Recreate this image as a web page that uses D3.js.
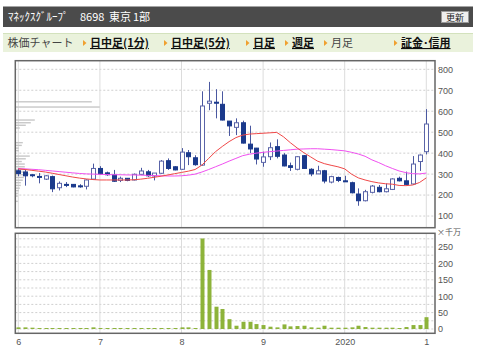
<!DOCTYPE html>
<html>
<head>
<meta charset="utf-8">
<script src="https://cdn.jsdelivr.net/npm/d3@7"></script>
<style>
  body { margin: 0; background: #fff; }
  svg { display: block; font-family: "Liberation Sans", Arial, sans-serif; }
</style>
</head>
<body>
<div id="chart"></div>
<script>
// monthly candles, Jan 2016 .. Jan 2021
const months = d3.timeMonth.range(new Date(2016, 0, 1), new Date(2021, 1, 1)).map(d3.timeFormat("%Y-%m"));
const openP  = [316,310,297,289,276,288,235,251,251,244,242,276,327,306,296,270,280,272,299,311,291,304,364,335,323,402,378,343,638,643,633,553,523,545,443,424,356,383,431,391,340,323,388,323,301,316,262,284,268,259,205,173,213,237,216,227,280,268,253,360,407];
const highP  = [327,320,300,305,296,293,265,262,252,252,275,350,338,312,320,288,281,303,330,320,305,367,375,338,424,415,390,695,740,705,695,553,566,555,531,425,407,451,466,400,355,386,391,328,340,320,292,288,292,264,232,225,248,248,255,280,288,312,386,394,610];
const lowP   = [290,245,285,256,272,214,222,238,237,235,227,274,297,292,263,262,266,270,297,287,270,301,320,318,320,343,340,340,605,566,556,482,486,446,400,346,335,367,375,337,315,318,325,290,300,256,256,262,264,208,149,170,208,213,213,224,265,248,248,315,394];
const closeP = [303,292,295,287,292,230,256,249,239,243,272,327,301,297,266,280,270,299,315,292,305,362,327,320,405,383,345,625,648,640,558,530,545,448,420,372,382,426,385,339,332,383,327,301,316,267,288,270,266,211,173,216,243,216,230,277,268,251,348,391,539];
// volume, x 10 million shares
const volume = [5,5,4,3,3,3,3,3,3,3,3,5,3,3,3,3,3,3,3,3,3,3,3,3,5,5,3,276,180,68,61,30,10,22,22,15,12,7,5,14,8,9,10,5,4,10,4,4,4,5,10,6,4,4,4,4,3,6,12,12,36];
// moving averages
const maShort = [325,322,318,314,310,304,298,292,286,281,277,274,272,272,272,272,272,273,276,280,285,290,296,302,308,314,322,343,375,407,432,455,474,486,491,493,495,497,499,478,450,425,402,382,362,350,342,335,325,300,282,272,264,258,254,252,246,245,248,260,282];
const maLong  = [326,325,323,321,318,315,312,309,306,303,301,300,299,298,297,297,296,296,295,294,293,292,291,291,292,295,300,310,322,335,348,362,375,388,395,400,404,407,410,413,416,419,420,421,421,419,417,414,411,404,396,385,368,355,340,327,315,307,302,301,305];
// price-by-volume profile on the left
const profilePrice = [645,620,558,545,533,520,450,437,424,412,386,373,360,348,335,322,310,297,284,271,259,246,233,221,208,195,170];
const profileVol   = [76,84,19,15,10,4,7,6,3,3,14,10,6,9,9,10,12,10,8,7,5,5,4,3,2,2,2];

const tickLabels = ["6","7","8","9","2020","1"];
const priceTicks = [100,200,300,400,500,600,700,800];
const volTicks = [0,50,100,150,200,250];
const volGrid = [0,25,50,75,100,125,150,175,200,225,250,275];

const W = 480, H = 360;
const panelL = 15.3, panelR = 435;
const priceTop = 60.7, priceBot = 227.7;
const volTop = 233.3, volBot = 333.3;

const svg = d3.select("#chart").append("svg")
    .attr("width", W).attr("height", H);

// ---- header bars
svg.append("rect").attr("x", 3).attr("y", 6.5).attr("width", 470).attr("height", 20.5).attr("fill", "#4b4b4b");
const title = svg.append("text").attr("y", 21)
    .attr("fill", "#fff").attr("font-size", 11)
    .attr("font-family", "'Noto Sans CJK JP', sans-serif");
[["ﾏﾈｯｸｽｸﾞﾙｰﾌﾟ", 8], ["8698", 80], ["東京", 109], ["1部", 133]].forEach(([t, px]) => {
  title.append("tspan").attr("x", px).text(t);
});
svg.append("rect").attr("x", 441.5).attr("y", 11.5).attr("width", 27).attr("height", 11)
    .attr("fill", "#eeeeee").attr("stroke", "#999");
svg.append("text").attr("x", 455).attr("y", 20.5).attr("text-anchor", "middle")
    .attr("font-size", 9).attr("fill", "#222")
    .attr("font-family", "'Noto Sans CJK JP', sans-serif")
    .text("更新");

svg.append("rect").attr("x", 3).attr("y", 33).attr("width", 470).attr("height", 19).attr("fill", "#eaf2dc");
svg.append("line").attr("x1", 3).attr("x2", 473).attr("y1", 33.5).attr("y2", 33.5).attr("stroke", "#d3e2bd");

const navItems = [
  {label: "株価チャート", x: 7.5, arrow: false, link: false},
  {label: "日中足(1分)", x: 90, arrow: true, link: true},
  {label: "日中足(5分)", x: 171, arrow: true, link: true},
  {label: "日足", x: 253, arrow: true, link: true},
  {label: "週足", x: 292, arrow: true, link: true},
  {label: "月足", x: 331, arrow: true, link: false},
  {label: "証金･信用", x: 401, arrow: true, link: true}
];
const nav = svg.append("g").attr("font-family", "'Noto Sans CJK JP', sans-serif").attr("font-size", 11);
nav.selectAll("text").data(navItems).join("text")
    .attr("x", d => d.x).attr("y", 47)
    .attr("fill", d => d.link ? "#111" : "#444")
    .attr("font-weight", d => d.link ? "bold" : "normal")
    .style("text-decoration", d => d.link ? "underline" : "none")
    .text(d => d.label);
nav.selectAll("path").data(navItems.filter(d => d.arrow)).join("path")
    .attr("d", d => `M${d.x - 7},${40} L${d.x - 3.5},${43} L${d.x - 7},${46} Z`)
    .attr("fill", "#f0a030");

// ---- scales
const x = d3.scalePoint().domain(months).range([18.3, 426.3]);
const y = d3.scaleLinear().domain([0, 800]).range([237, 69.3]);
const yv = d3.scaleLinear().domain([0, 250]).range([329, 247]);
const pw = d3.scaleLinear().domain([0, 84]).range([0, 84]);
const janKeys = months.filter(m => m.endsWith("-01"));

// ---- panel backgrounds
[[priceTop, priceBot], [volTop, volBot]].forEach(([t, b]) => {
  svg.append("rect").attr("x", panelL).attr("y", t).attr("width", panelR - panelL).attr("height", b - t).attr("fill", "#fff");
});

// horizontal dotted grid
svg.append("g").selectAll("line").data(priceTicks).join("line")
    .attr("x1", panelL).attr("x2", panelR)
    .attr("y1", d => y(d)).attr("y2", d => y(d))
    .attr("stroke", "#cfcfcf").attr("stroke-dasharray", "2,2");
svg.append("g").selectAll("line").data(volGrid).join("line")
    .attr("x1", panelL).attr("x2", panelR)
    .attr("y1", d => yv(d)).attr("y2", d => yv(d))
    .attr("stroke", "#cfcfcf").attr("stroke-dasharray", "2,2");

// vertical year lines
[[priceTop, priceBot], [volTop, volBot]].forEach(([t, b]) => {
  svg.append("g").selectAll("line").data(janKeys).join("line")
      .attr("x1", d => x(d)).attr("x2", d => x(d))
      .attr("y1", t).attr("y2", b)
      .attr("stroke", "#dcdcdc");
});

// ---- price by volume profile
svg.append("g").selectAll("rect").data(profilePrice).join("rect")
    .attr("x", panelL + 0.5)
    .attr("y", d => y(d) - 0.7)
    .attr("width", (d, i) => pw(profileVol[i]))
    .attr("height", 1.4)
    .attr("fill", "#c8c8c8");

// ---- candles
const cw = 4;
const candles = svg.append("g");
candles.selectAll("line").data(months).join("line")
    .attr("x1", d => Math.round(x(d)) + 0.5).attr("x2", d => Math.round(x(d)) + 0.5)
    .attr("y1", (d, i) => y(highP[i])).attr("y2", (d, i) => y(lowP[i]))
    .attr("stroke", "#4a58a0").attr("stroke-width", 1);
candles.selectAll("rect").data(months).join("rect")
    .attr("x", d => Math.round(x(d)) + 0.5 - cw / 2)
    .attr("y", (d, i) => y(Math.max(openP[i], closeP[i])))
    .attr("width", cw)
    .attr("height", (d, i) => Math.max(1, Math.abs(y(openP[i]) - y(closeP[i]))))
    .attr("fill", (d, i) => closeP[i] >= openP[i] ? "#fff" : "#1b3a8c")
    .attr("stroke", (d, i) => closeP[i] >= openP[i] ? "#5a64a8" : "#1b3a8c")
    .attr("stroke-width", 1);

// ---- moving averages
const line = arr => d3.line().x((d, i) => x(months[i])).y(d => y(d))(arr);
svg.append("path").attr("d", line(maLong)).attr("fill", "none").attr("stroke", "#f050f0").attr("stroke-width", 1);
svg.append("path").attr("d", line(maShort)).attr("fill", "none").attr("stroke", "#f04848").attr("stroke-width", 1);

// ---- volume bars
svg.append("g").selectAll("rect").data(months).join("rect")
    .attr("x", d => Math.round(x(d)) + 0.5 - 2)
    .attr("y", (d, i) => yv(volume[i]))
    .attr("width", 4)
    .attr("height", (d, i) => yv(0) - yv(volume[i]))
    .attr("fill", "#8db33a");

// ---- frames
[[priceTop, priceBot], [volTop, volBot]].forEach(([t, b]) => {
  svg.append("rect").attr("x", panelL).attr("y", t).attr("width", panelR - panelL).attr("height", b - t)
      .attr("fill", "none").attr("stroke", "#666").attr("stroke-width", 1.5);
});

// ---- axes
const yAxis = svg.append("g")
    .attr("transform", `translate(${panelR},0)`)
    .call(d3.axisRight(y).tickValues(priceTicks).tickSize(0).tickPadding(3));
const vAxis = svg.append("g")
    .attr("transform", `translate(${panelR},0)`)
    .call(d3.axisRight(yv).tickValues(volTicks).tickSize(0).tickPadding(3));
const xAxis = svg.append("g")
    .attr("transform", `translate(0,${volBot})`)
    .call(d3.axisBottom(x).tickValues(janKeys).tickFormat((d, i) => tickLabels[i]).tickSize(0).tickPadding(5));
[yAxis, vAxis, xAxis].forEach(g => {
  g.select(".domain").remove();
  g.selectAll("text").attr("font-size", 9).attr("fill", "#555")
      .attr("font-family", "'Liberation Sans', Arial, sans-serif");
});

svg.append("text").attr("x", 437).attr("y", 235)
    .attr("font-size", 8).attr("fill", "#555")
    .attr("font-family", "'Noto Sans CJK JP', sans-serif")
    .text("×千万");
</script>
</body>
</html>
